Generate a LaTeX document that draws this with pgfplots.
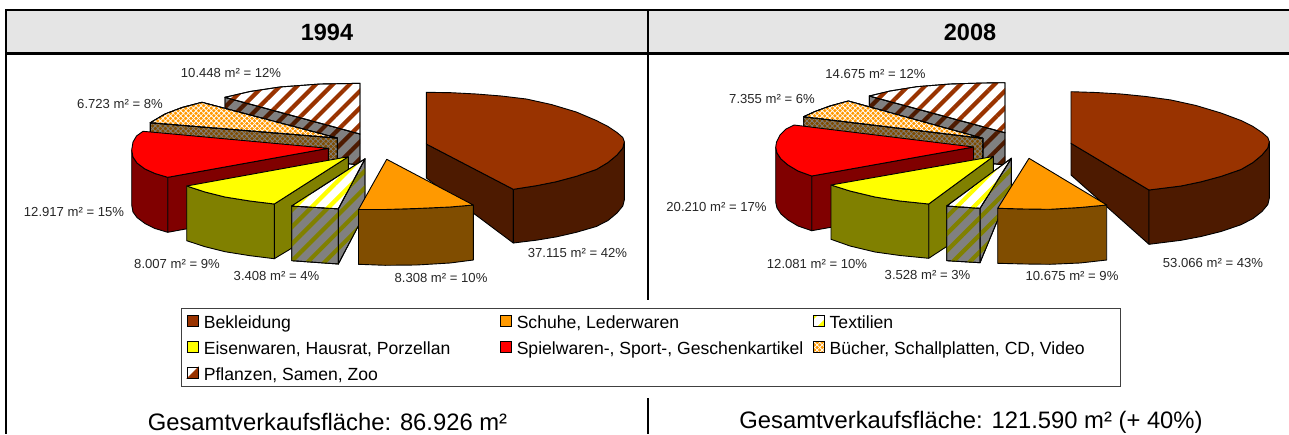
\documentclass[border=0pt]{standalone}
\usepackage{pgfplots}
\pgfplotsset{compat=1.18}
\usepackage{fontspec}
\setmainfont{Liberation Sans}
\usetikzlibrary{patterns.meta}
\definecolor{bk}{HTML}{993300}\definecolor{bkd}{HTML}{4D1A00}
\definecolor{sc}{HTML}{FF9900}\definecolor{scd}{HTML}{804D00}
\definecolor{yl}{HTML}{FFFF00}\definecolor{rd}{HTML}{FF0000}
\definecolor{eid}{HTML}{808000}\definecolor{spd}{HTML}{800000}
\definecolor{gy}{HTML}{808080}\definecolor{hd}{HTML}{E5E5E5}
\tikzset{
 e/.style={draw=black,line width=0.9pt,line join=round},
 stripes/.style 2 args={fill=#1,postaction={pattern={Lines[angle=45,distance=12pt,line width=4.2pt]},pattern color=#2}},
 cross/.style 2 args={fill=#1,postaction={pattern={Lines[angle=45,distance=3.6pt,line width=0.75pt]},pattern color=#2},postaction={pattern={Lines[angle=-45,distance=3.6pt,line width=0.75pt]},pattern color=#2}},
 lab/.style={font=\fontsize{13.1}{15}\selectfont,text=black!85,inner sep=0pt,anchor=center},
 big/.style={font=\fontsize{23.8}{27}\selectfont,text=black,inner sep=0pt,anchor=center},
}
\newcommand{\lt}[2]{\makebox[#1pt][l]{#2}}
\begin{document}
\begin{tikzpicture}
\begin{axis}[
 scale only axis,width=1289pt,height=434pt,
 xmin=0,xmax=1289,ymin=0,ymax=434,y dir=reverse,hide axis,
 every axis plot/.append style={forget plot},
 legend columns=3,
 legend cell align=left,
 legend style={at={(axis cs:181,308.3)},anchor=north west,draw=black!75,line width=0.9pt,fill=white,
   inner xsep=5.5pt,inner ysep=4.2pt,
   font=\fontsize{17.6}{20}\selectfont,
   nodes={inner sep=0pt,text height=16pt,text depth=1pt},
   /tikz/every odd column/.style={column sep=5pt},
   /tikz/every even column/.style={column sep=3.5pt},
   /tikz/row sep=9pt},
]
\addlegendimage{legend image code/.code={\draw[line width=0.9pt,draw=black,fill=bk] (0pt,-5pt) rectangle (11pt,6pt);}}
\addlegendentry{\lt{292.5}{Bekleidung}}
\addlegendimage{legend image code/.code={\draw[line width=0.9pt,draw=black,fill=sc] (0pt,-5pt) rectangle (11pt,6pt);}}
\addlegendentry{\lt{292.5}{Schuhe, Lederwaren}}
\addlegendimage{legend image code/.code={\fill[stripes={white}{yl}] (0pt,-5pt) rectangle (11pt,6pt);\draw[line width=0.9pt] (0pt,-5pt) rectangle (11pt,6pt);}}
\addlegendentry{\lt{285.5}{Textilien}}
\addlegendimage{legend image code/.code={\draw[line width=0.9pt,draw=black,fill=yl] (0pt,-5pt) rectangle (11pt,6pt);}}
\addlegendentry{\lt{292.5}{Eisenwaren, Hausrat, Porzellan}}
\addlegendimage{legend image code/.code={\draw[line width=0.9pt,draw=black,fill=rd] (0pt,-5pt) rectangle (11pt,6pt);}}
\addlegendentry{\lt{292.5}{Spielwaren-, Sport-, Geschenkartikel}}
\addlegendimage{legend image code/.code={\fill[cross={sc}{white}] (0pt,-5pt) rectangle (11pt,6pt);\draw[line width=0.9pt] (0pt,-5pt) rectangle (11pt,6pt);}}
\addlegendentry{\lt{285.5}{Bücher, Schallplatten, CD, Video}}
\addlegendimage{legend image code/.code={\fill[white] (0pt,-5pt) rectangle (11pt,6pt);\fill[bk] (0pt,-5pt) -- (11pt,-5pt) -- (11pt,6pt) -- cycle;\draw[line width=0.9pt] (0pt,-5pt) rectangle (11pt,6pt);}}
\addlegendentry{\lt{292.5}{Pflanzen, Samen, Zoo}}

% header band and frame
\addplot[fill=hd,draw=none] coordinates {(6,10)(1289,10)(1289,53.5)(6,53.5)} --cycle;
\addplot[black,line width=2.2pt] coordinates {(6,10)(1289,10)};
\addplot[black,line width=2.2pt] coordinates {(5,53.5)(1289,53.5)};
\addplot[black,line width=2.2pt] coordinates {(6,9)(6,434)};
\addplot[black,line width=2.2pt] coordinates {(648,9)(648,300)};
\addplot[black,line width=2.2pt] coordinates {(648,398)(648,434)};

%%% 1994
% Pflanzen
\addplot[e,stripes={gy}{bkd}] coordinates {(225,97.3)(360,134)(360,165)(225,151)} --cycle;
\addplot[e,stripes={white}{bk}] coordinates {(225,97.3)(250,91.5)(280,87)(320,84)(360,83.3)(360,134)} --cycle;
% Buecher
\addplot[e,cross={scd}{gy}] coordinates {(150.3,122.7)(337.3,138)(337.3,175)(150.3,177)} --cycle;
\addplot[e,cross={sc}{white}] coordinates {(150.3,122.7)(165,114)(182,107.5)(202,102.3)(337.3,138)} --cycle;
% Spielwaren
\addplot[e,fill=spd] coordinates {(328.3,148.3)(167.7,177.3)(167.7,232.3)(328.3,203)} --cycle;
\addplot[e,fill=spd] coordinates {(131.7,150)(133,157)(137,163)(145,169)(155,173.5)(167.7,177.3)(167.7,232.3)(155,228.5)(145,223.5)(137,217.5)(133,212)(131.7,205)} --cycle;
\addplot[e,fill=rd] coordinates {(143,131.3)(136.5,136)(133,142)(131.7,150)(133,157)(137,163)(145,169)(155,173.5)(167.7,177.3)(328.3,148.3)} --cycle;
% Eisenwaren
\addplot[e,fill=eid] coordinates {(274.3,204)(348.3,156.7)(348.3,214)(274.3,258.7)} --cycle;
\addplot[e,fill=eid] coordinates {(186.7,186)(205,192)(225,197)(250,201)(274.3,204)(274.3,258.7)(250,255.7)(225,251.7)(205,246.7)(186.7,240.7)} --cycle;
\addplot[e,fill=yl] coordinates {(186.7,186)(205,192)(225,197)(250,201)(274.3,204)(348.3,156.7)} --cycle;
% Bekleidung
\addplot[e,fill=bkd] coordinates {(426.3,144)(513.3,189.3)(513.3,243)(426.3,178)} --cycle;
\addplot[e,fill=bkd] coordinates {(513.3,189.3)(536.3,185.7)(556.3,181.7)(576.3,176.3)(596.3,169.5)(608,162.5)(617,155)(622.8,148)(624.3,141.7)(624.3,200)(622.8,206)(617,213)(608,220.5)(596.3,226.5)(576.3,232.3)(556.3,236.9)(536.3,240.2)(513.3,243)} --cycle;
\addplot[e,fill=bk] coordinates {(426.3,92.3)(451.3,92.7)(476.3,94)(501.3,96)(526.3,99)(551.3,104.5)(576.3,112)(596.3,120.5)(608,126.5)(617,132.5)(622.8,137.5)(624.3,141.7)(622.8,148)(617,155)(608,162.5)(596.3,169.5)(576.3,176.3)(556.3,181.7)(536.3,185.7)(513.3,189.3)(426.3,144)} --cycle;
% Textilien
\addplot[e,stripes={gy}{eid}] coordinates {(338.3,208.8)(365,158.8)(365,213.3)(338.3,264)} --cycle;
\addplot[e,stripes={gy}{eid}] coordinates {(291.7,206)(338.3,208.8)(338.3,264)(291.7,260.7)} --cycle;
\addplot[e,stripes={white}{yl}] coordinates {(291.7,206)(338.3,208.8)(365,158.8)} --cycle;
% Schuhe
\addplot[e,fill=scd] coordinates {(358.5,209.5)(385,209.5)(416.7,208.5)(450,207)(473.3,205)(473.3,260)(450,263)(416.7,265)(385,265.3)(358.5,264.3)} --cycle;
\addplot[e,fill=sc] coordinates {(386.7,159.3)(473.3,205)(450,207)(416.7,208.5)(385,209.5)(358.5,209.5)} --cycle;

%%% 2008
% Pflanzen
\addplot[e,stripes={gy}{bkd}] coordinates {(869.3,96)(1005,132.7)(1005,165)(869.3,150)} --cycle;
\addplot[e,stripes={white}{bk}] coordinates {(869.3,96)(890,91)(916.7,86.7)(950,84)(983,83)(1005,82.7)(1005,132.7)} --cycle;
% Buecher
\addplot[e,cross={scd}{gy}] coordinates {(803.7,116.7)(982.8,138.3)(982.8,172)(803.7,171)} --cycle;
\addplot[e,cross={sc}{white}] coordinates {(803.7,116.7)(815,111.5)(830,106)(848.3,101)(982.8,138.3)} --cycle;
% Spielwaren
\addplot[e,fill=spd] coordinates {(973.5,147)(811.7,176)(811.7,230.7)(973.5,202)} --cycle;
\addplot[e,fill=spd] coordinates {(775.7,147.3)(777,153)(781,159)(788,165)(798,171)(811.7,176)(811.7,230.7)(798,226)(788,220)(781,214)(777,208)(775.7,202.3)} --cycle;
\addplot[e,fill=rd] coordinates {(794,125)(786,129)(780,135)(776.5,142)(775.7,147.3)(777,153)(781,159)(788,165)(798,171)(811.7,176)(973.5,147)} --cycle;
% Eisenwaren
\addplot[e,fill=eid] coordinates {(928.7,204)(993.3,156.5)(993.3,216)(928.7,258.3)} --cycle;
\addplot[e,fill=eid] coordinates {(831,185)(850,191)(875,197)(900,201)(928.7,204)(928.7,258.3)(900,255.5)(875,252)(850,246)(831,239.3)} --cycle;
\addplot[e,fill=yl] coordinates {(831,185)(850,191)(875,197)(900,201)(928.7,204)(993.3,156.5)} --cycle;
% Bekleidung
\addplot[e,fill=bkd] coordinates {(1071,143.3)(1149,190)(1149,244.3)(1071,175)} --cycle;
\addplot[e,fill=bkd] coordinates {(1149,190)(1181,186)(1201,181.8)(1221,176.4)(1241,169.5)(1253,162.5)(1262,155)(1267.8,148)(1269.3,141.7)(1269.3,198.3)(1267.8,204.5)(1262,211.5)(1253,218.5)(1241,224.7)(1221,231.5)(1201,236.5)(1181,240.3)(1149,244.3)} --cycle;
\addplot[e,fill=bk] coordinates {(1071,91.7)(1096,92.5)(1121,94)(1146,96.5)(1171,100)(1196,105.5)(1221,113)(1241,120.5)(1253,126.5)(1262,132.5)(1267.8,137.5)(1269.3,141.7)(1267.8,148)(1262,155)(1253,162.5)(1241,169.5)(1221,176.4)(1201,181.8)(1181,186)(1149,190)(1071,143.3)} --cycle;
% Textilien
\addplot[e,stripes={gy}{eid}] coordinates {(980,208.3)(1011.3,158.3)(1011.3,187)(980,262.7)} --cycle;
\addplot[e,stripes={gy}{eid}] coordinates {(946.7,206)(980,208.3)(980,262.7)(946.7,260.7)} --cycle;
\addplot[e,stripes={white}{yl}] coordinates {(946.7,206)(980,208.3)(1011.3,158.3)} --cycle;
% Schuhe
\addplot[e,fill=scd] coordinates {(997.7,208.3)(1025,209)(1050,209.3)(1080,207.5)(1106.7,205)(1106.7,260)(1080,263)(1050,264.3)(1025,264)(997.7,263.3)} --cycle;
\addplot[e,fill=sc] coordinates {(1029,158.3)(1106.7,205)(1080,207.5)(1050,209.3)(1025,209)(997.7,208.3)} --cycle;

% labels
\node[font=\bfseries\fontsize{23.5}{27}\selectfont] at (axis cs:327,32) {1994};
\node[font=\bfseries\fontsize{23.5}{27}\selectfont] at (axis cs:970,32) {2008};
\node[lab] at (axis cs:231,73) {10.448 m² = 12\%};
\node[lab] at (axis cs:120,103.5) {6.723 m² = 8\%};
\node[lab] at (axis cs:74,211.5) {12.917 m² = 15\%};
\node[lab] at (axis cs:177,263.5) {8.007 m² = 9\%};
\node[lab] at (axis cs:276.5,275.5) {3.408 m² = 4\%};
\node[lab] at (axis cs:441,278) {8.308 m² = 10\%};
\node[lab] at (axis cs:577.5,253) {37.115 m² = 42\%};
\node[lab] at (axis cs:875.5,73.5) {14.675 m² = 12\%};
\node[lab] at (axis cs:772,98.5) {7.355 m² = 6\%};
\node[lab] at (axis cs:716.5,206.5) {20.210 m² = 17\%};
\node[lab] at (axis cs:817,263.5) {12.081 m² = 10\%};
\node[lab] at (axis cs:927.5,275) {3.528 m² = 3\%};
\node[lab] at (axis cs:1072,276) {10.675 m² = 9\%};
\node[lab] at (axis cs:1213,263) {53.066 m² = 43\%};
\node[big] at (axis cs:327.5,422) {Gesamtverkaufsfläche: 86.926 m²};
\node[big] at (axis cs:971,422) {Gesamtverkaufsfläche: 121.590 m² (+ 40\%)};
\end{axis}
\path[use as bounding box] (0pt,0pt) rectangle (1289pt,434pt);
\end{tikzpicture}
\end{document}
